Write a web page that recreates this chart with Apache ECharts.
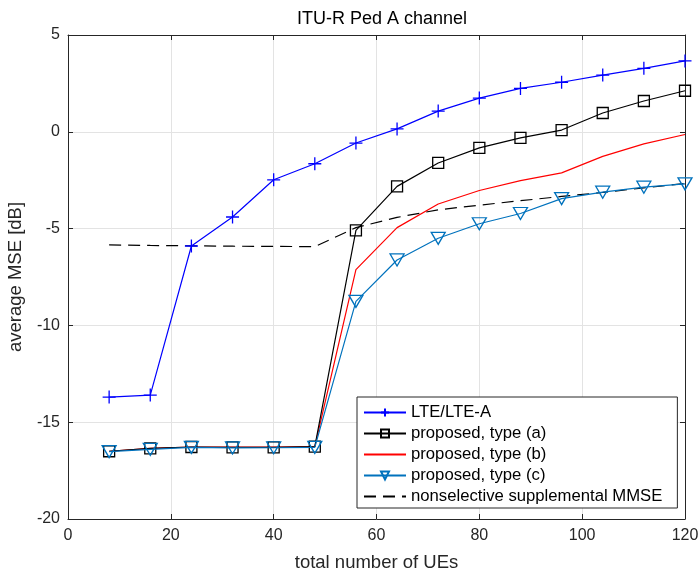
<!DOCTYPE html>
<html><head><meta charset="utf-8">
<script src="https://cdn.jsdelivr.net/npm/echarts@6/dist/echarts.min.js"></script>
<style>html,body{margin:0;padding:0;background:#fff}#c{width:698px;height:570px}</style>
</head><body><div id="c"></div>
<script>
const xValues = [8,16,24,32,40,48,56,64,72,80,88,96,104,112,120];
const lteValues = [-13.7,-13.6,-5.9,-4.4,-2.48,-1.65,-0.58,0.15,1.07,1.74,2.24,2.56,2.93,3.28,3.66];
const typeAValues = [-16.5,-16.35,-16.28,-16.3,-16.3,-16.26,-5.09,-2.82,-1.61,-0.83,-0.31,0.09,0.97,1.59,2.12];
const typeBValues = [-16.5,-16.35,-16.28,-16.28,-16.28,-16.26,-7.12,-4.95,-3.73,-3.03,-2.52,-2.12,-1.27,-0.62,-0.14];
const typeCValues = [-16.52,-16.4,-16.3,-16.33,-16.32,-16.3,-8.76,-6.62,-5.5,-4.75,-4.22,-3.45,-3.12,-2.86,-2.69];
const mmseValues = [-5.84,-5.87,-5.89,-5.91,-5.92,-5.93,-4.95,-4.42,-4.03,-3.79,-3.56,-3.34,-3.13,-2.9,-2.67];
const seriesNames = ['LTE/LTE-A','proposed, type (a)','proposed, type (b)','proposed, type (c)','nonselective supplemental MMSE'];
const xTicks = [0,20,40,60,80,100,120];
const yTicks = [-20,-15,-10,-5,0,5];

const pair = v => xValues.map((x,i)=>[x,v[i]]);
const FONT = '"Liberation Sans", Arial, sans-serif';
const AX = '#262626';

const chart = echarts.init(document.getElementById('c'), null, {renderer:'canvas'});
const baseX = {type:'value', min:xTicks[0], max:xTicks[xTicks.length-1], interval:20};
const baseY = {type:'value', min:yTicks[0], max:yTicks[yTicks.length-1], interval:5};
chart.setOption({
  backgroundColor:'#fff',
  animation:false,
  textStyle:{fontFamily:FONT},
  title:{text:'ITU-R Ped A channel', left:377, top:5, textAlign:'center',
    textStyle:{fontFamily:FONT, fontSize:18, fontWeight:'normal', color:'#000'}},
  grid:{left:68, right:13, top:35, bottom:51, containLabel:false, outerBoundsMode:'none'},
  xAxis:[
    Object.assign({}, baseX, {position:'bottom',
      name:'total number of UEs', nameLocation:'middle', nameGap:34,
      nameTextStyle:{fontFamily:FONT, fontSize:18.5, color:AX},
      axisLine:{show:true, onZero:false, lineStyle:{color:AX, width:1}},
      axisTick:{show:true, inside:true, length:5, lineStyle:{color:AX}},
      axisLabel:{fontFamily:FONT, fontSize:16, color:AX, margin:9},
      splitLine:{show:true, lineStyle:{color:'#e3e3e3', width:1}}}),
    Object.assign({}, baseX, {position:'top',
      axisLine:{show:true, onZero:false, lineStyle:{color:AX, width:1}},
      axisTick:{show:true, inside:true, length:5, lineStyle:{color:AX}},
      axisLabel:{show:false}, splitLine:{show:false}})
  ],
  yAxis:[
    Object.assign({}, baseY, {position:'left',
      name:'average MSE [dB]', nameLocation:'middle', nameGap:43, nameRotate:90,
      nameMoveOverlap:false,
      nameTextStyle:{fontFamily:FONT, fontSize:18.5, color:AX},
      axisLine:{show:true, onZero:false, lineStyle:{color:AX, width:1}},
      axisTick:{show:true, inside:true, length:5, lineStyle:{color:AX}},
      axisLabel:{fontFamily:FONT, fontSize:16, color:AX, margin:8},
      splitLine:{show:true, lineStyle:{color:'#e3e3e3', width:1}}}),
    Object.assign({}, baseY, {position:'right',
      axisLine:{show:true, onZero:false, lineStyle:{color:AX, width:1}},
      axisTick:{show:true, inside:true, length:5, lineStyle:{color:AX}},
      axisLabel:{show:false}, splitLine:{show:false}})
  ],
  legend:{
    orient:'vertical', left:357, top:397,
    padding:[7,15,3,6], itemGap:4, itemWidth:42, itemHeight:10,
    backgroundColor:'#fff', borderColor:'#262626', borderWidth:1, borderRadius:0,
    textStyle:{fontFamily:FONT, fontSize:16.7, lineHeight:17, color:'#000'},
    data:seriesNames
  },
  series:[
    {name:seriesNames[0], type:'line', data:pair(lteValues),
     symbol:'path://M5,0L5,10M0,5L10,5', symbolSize:13,
     itemStyle:{color:'#0000ff', borderColor:'#0000ff', borderWidth:1.3},
     lineStyle:{color:'#0000ff', width:1.2}, z:5},
    {name:seriesNames[1], type:'line', data:pair(typeAValues),
     symbol:'rect', symbolSize:11,
     itemStyle:{color:'rgba(255,255,255,0)', borderColor:'#000', borderWidth:1.3},
     lineStyle:{color:'#000', width:1.2}, z:4},
    {name:seriesNames[2], type:'line', data:pair(typeBValues),
     symbol:'none', showSymbol:false,
     itemStyle:{color:'rgba(0,0,0,0)'},
     lineStyle:{color:'#ff0000', width:1.2}, z:3},
    {name:seriesNames[3], type:'line', data:pair(typeCValues),
     symbol:'triangle', symbolRotate:180, symbolSize:[14,12],
     itemStyle:{color:'rgba(255,255,255,0)', borderColor:'#0072BD', borderWidth:1.3},
     lineStyle:{color:'#0072BD', width:1.2}, z:6},
    {name:seriesNames[4], type:'line', data:pair(mmseValues),
     symbol:'none', showSymbol:false,
     itemStyle:{color:'rgba(0,0,0,0)'},
     lineStyle:{color:'#000', width:1.2, type:[12,7]}, z:2}
  ]
});
</script>
</body></html>
